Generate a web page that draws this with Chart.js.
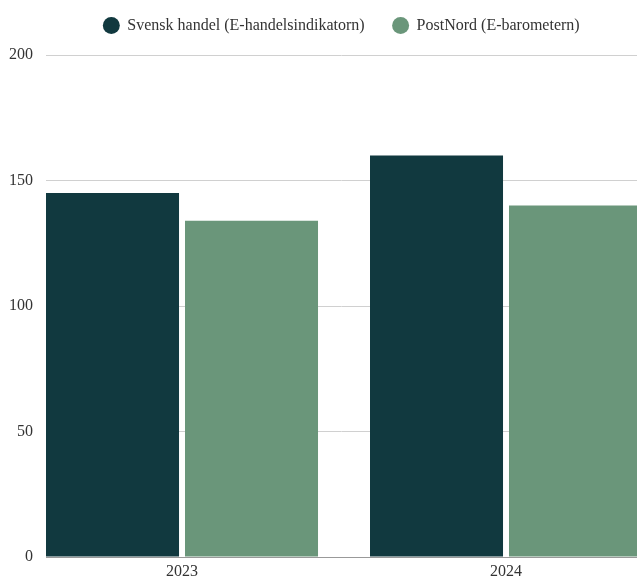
<!DOCTYPE html>
<html><head><meta charset="utf-8">
<script src="https://cdn.jsdelivr.net/npm/chart.js@4"></script>
<style>html,body{margin:0;padding:0;background:#fff;overflow:hidden}#wrap{width:637px;height:577px}</style>
</head><body><div id="wrap"><canvas id="c" width="637" height="577"></canvas></div>
<script>
const categories = ["2023", "2024"];
const svenskHandel = [145, 160];
const postNord = [134, 140];
const yTicks = [0, 50, 100, 150, 200];
const seriesNames = ["Svensk handel (E-handelsindikatorn)", "PostNord (E-barometern)"];

const FONT = "'Liberation Serif', 'DejaVu Serif', serif";
Chart.defaults.font.family = FONT;
Chart.defaults.font.size = 16;
Chart.defaults.color = '#333';
const toPts = arr => arr.map((v, i) => ({x: i, y: v}));

const legendGap = {
  id: 'legendGap',
  beforeLayout(chart) {
    const lg = chart.legend;
    if (lg && !lg._gapPatched) {
      const orig = lg.fit.bind(lg);
      lg.fit = function () { orig(); this.height += 11.5; };
      lg._gapPatched = true;
    }
  }
};

new Chart(document.getElementById('c'), {
  type: 'bar',
  data: {
    datasets: [
      {label: seriesNames[0], data: toPts(svenskHandel), backgroundColor: '#11393f', categoryPercentage: 0.858, barPercentage: 0.957},
      {label: seriesNames[1], data: toPts(postNord), backgroundColor: '#6a967a', categoryPercentage: 0.858, barPercentage: 0.957}
    ]
  },
  plugins: [legendGap],
  options: {
    responsive: false,
    animation: false,
    devicePixelRatio: 1,
    layout: {padding: {left: 0, right: 0, top: -10.5, bottom: 0}},
    plugins: {
      tooltip: {enabled: false},
      legend: {
        position: 'top',
        fullSize: false,
        labels: {usePointStyle: true, pointStyle: 'circle', boxHeight: 12, padding: 28, font: {family: FONT, size: 16}}
      }
    },
    scales: {
      x: {
        type: 'linear',
        offset: false,
        min: -0.4198,
        max: 1.4043,
        afterBuildTicks: s => { s.ticks = categories.map((c, i) => ({value: i})); },
        afterFit: s => { s.height = 20; },
        ticks: {callback: v => categories[v], font: {family: FONT, size: 16}, padding: 5, autoSkip: false, maxRotation: 0},
        grid: {display: false, drawTicks: false},
        border: {display: true, color: '#999'}
      },
      y: {
        min: 0, max: 200,
        afterBuildTicks: s => { s.ticks = yTicks.map(v => ({value: v})); },
        afterFit: s => { s.width = 46; },
        ticks: {font: {family: FONT, size: 16, lineHeight: 0.7}, padding: 13},
        grid: {color: '#d0d0d0', drawTicks: false},
        border: {display: false}
      }
    }
  }
});
</script></body></html>
